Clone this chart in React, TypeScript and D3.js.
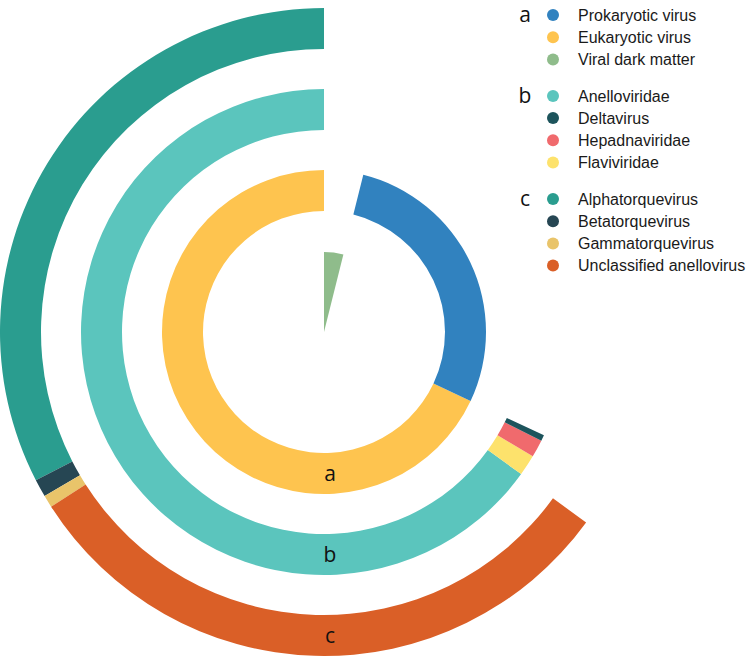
import React from "react";
import * as d3 from "d3";

// ring a: share of all viral reads (%), listed counter-clockwise from 12 o'clock
const ringA = ["Eukaryotic virus", "Prokaryotic virus", "Viral dark matter"];
const ringAValues = [68.0, 28.1, 3.9];

// ring b: breakdown of eukaryotic virus
const ringB = ["Anelloviridae", "Flaviviridae", "Hepadnaviridae", "Deltavirus"];
const ringBValues = [65.06, 1.39, 1.17, 0.39];

// ring c: breakdown of Anelloviridae
const ringC = ["Alphatorquevirus", "Betatorquevirus", "Gammatorquevirus", "Unclassified anellovirus"];
const ringCValues = [32.56, 0.89, 0.61, 30.94];

const ringLabels = ["a", "b", "c"];

const legendGroups = [
  { label: "a", keys: ["Prokaryotic virus", "Eukaryotic virus", "Viral dark matter"] },
  { label: "b", keys: ["Anelloviridae", "Deltavirus", "Hepadnaviridae", "Flaviviridae"] },
  { label: "c", keys: ["Alphatorquevirus", "Betatorquevirus", "Gammatorquevirus", "Unclassified anellovirus"] },
];

const colors: Record<string, string> = {
  "Prokaryotic virus": "#3182bf",
  "Eukaryotic virus": "#fec44f",
  "Viral dark matter": "#8fbc8b",
  Anelloviridae: "#5bc5bd",
  Deltavirus: "#1d545c",
  Hepadnaviridae: "#f06a6d",
  Flaviviridae: "#fde26c",
  Alphatorquevirus: "#2a9d8f",
  Betatorquevirus: "#264653",
  Gammatorquevirus: "#e9c46a",
  "Unclassified anellovirus": "#da5f27",
};

const W = 752;
const H = 657;
const cx = 324;
const cy = 332;

const App = () => {
  const angle = d3.scaleLinear().domain([0, 100]).range([0, 2 * Math.PI]);
  const outerR = [162, 243, 324];
  const bandW = 41;

  const rings = [
    { keys: ringA, values: ringAValues },
    { keys: ringB, values: ringBValues },
    { keys: ringC, values: ringCValues },
  ];

  const arc = d3.arc<any>();

  const segments: { key: string; d: string }[] = [];
  rings.forEach((ring, ri) => {
    let end = 100;
    ring.keys.forEach((key, i) => {
      const start = end - ring.values[i];
      const isDark = key === "Viral dark matter";
      const d = arc({
        innerRadius: isDark ? 0 : outerR[ri] - bandW,
        outerRadius: isDark ? 80 : outerR[ri],
        startAngle: angle(start),
        endAngle: angle(end),
      }) as string;
      segments.push({ key, d });
      end = start;
    });
  });

  const rowH = 22.2;
  const groupGap = 14.3;
  const legendRows: { key: string; y: number }[] = [];
  const legendLetters: { label: string; y: number }[] = [];
  let idx = 0;
  legendGroups.forEach((g, gi) => {
    legendLetters.push({ label: g.label, y: 15 + idx * rowH + gi * groupGap });
    g.keys.forEach((k) => {
      legendRows.push({ key: k, y: 15 + idx * rowH + gi * groupGap });
      idx++;
    });
  });

  return (
    <svg width={W} height={H} style={{ position: "absolute", left: 0, top: 0, background: "#fff" }}>
      <g transform={`translate(${cx},${cy})`}>
        {segments.map((s) => (
          <path key={s.key} d={s.d} fill={colors[s.key]} />
        ))}
        {ringLabels.map((l, i) => (
          <text
            key={l}
            x={6}
            y={outerR[i] - bandW / 2}
            dy="0.35em"
            textAnchor="middle"
            fontFamily="'Open Sans', sans-serif"
            fontSize={21}
            fill="#111"
          >
            {l}
          </text>
        ))}
      </g>
      <g>
        {legendLetters.map((l) => (
          <text
            key={l.label}
            x={525}
            y={l.y}
            dy="0.33em"
            textAnchor="middle"
            fontFamily="'Open Sans', sans-serif"
            fontSize={21}
            fill="#111"
          >
            {l.label}
          </text>
        ))}
        {legendRows.map((r) => (
          <g key={r.key}>
            <circle cx={553} cy={r.y} r={6} fill={colors[r.key]} />
            <text
              x={578}
              y={r.y}
              dy="0.35em"
              fontFamily="'Liberation Sans', Arial, sans-serif"
              fontSize={16}
              fill="#1a1a1a"
            >
              {r.key}
            </text>
          </g>
        ))}
      </g>
    </svg>
  );
};

export default App;
